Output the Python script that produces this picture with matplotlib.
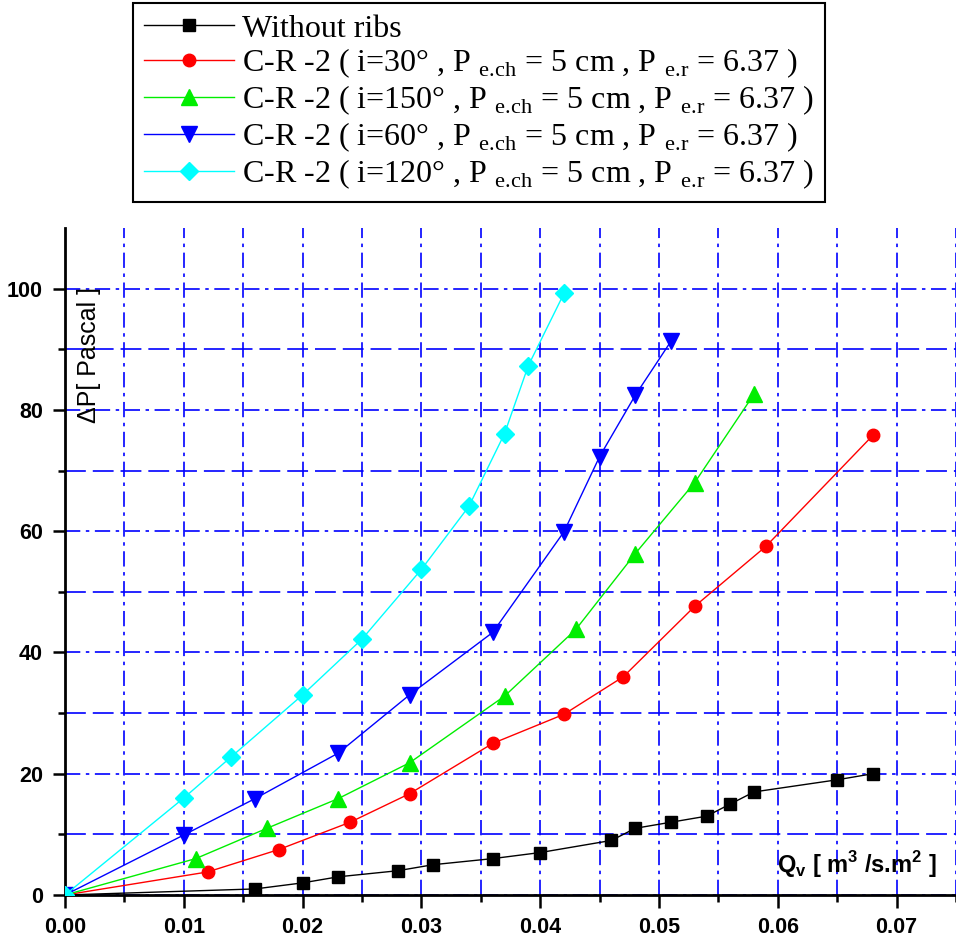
import matplotlib
matplotlib.use("Agg")
import matplotlib.pyplot as plt
from matplotlib.ticker import MultipleLocator, FixedLocator

# values (Qv in m3/s.m2, dP in Pascal)
q_noribs = [0.0, 0.016, 0.020, 0.023, 0.028, 0.031, 0.036, 0.040, 0.046, 0.048,
            0.051, 0.054, 0.056, 0.058, 0.065, 0.068]
dp_noribs = [0.0, 1.0, 2.0, 3.0, 4.0, 5.0, 6.0, 7.0, 9.0, 11.0,
             12.0, 13.0, 15.0, 17.0, 19.0, 20.0]

q_30 = [0.0, 0.012, 0.018, 0.024, 0.029, 0.036, 0.042, 0.047, 0.053, 0.059, 0.068]
dp_30 = [0.0, 3.8, 7.5, 12.0, 16.7, 25.0, 29.8, 36.0, 47.6, 57.5, 75.8]

q_150 = [0.0, 0.011, 0.017, 0.023, 0.029, 0.037, 0.043, 0.048, 0.053, 0.058]
dp_150 = [0.0, 6.0, 11.0, 15.9, 21.8, 32.8, 43.8, 56.3, 68.0, 82.6]

q_60 = [0.0, 0.010, 0.016, 0.023, 0.029, 0.036, 0.042, 0.045, 0.048, 0.051]
dp_60 = [0.0, 9.9, 15.9, 23.4, 33.0, 43.3, 59.9, 72.3, 82.4, 91.3]

q_120 = [0.0, 0.010, 0.014, 0.020, 0.025, 0.030, 0.034, 0.037, 0.039, 0.042]
dp_120 = [0.0, 16.0, 22.8, 33.0, 42.2, 53.7, 64.1, 76.1, 87.3, 99.2]

lbl = r"C-R -2 ( i=%s° , P $_{\mathrm{e.\!ch}}$ = 5 cm , P $_{\mathrm{e.\!r}}$ = 6.37 )"
labels = ["Without ribs", lbl % "30", lbl % "150", lbl % "60", lbl % "120"]

plt.rcParams['lines.scale_dashes'] = False
plt.rcParams['mathtext.fontset'] = 'custom'
plt.rcParams['mathtext.rm'] = 'Liberation Serif'
plt.rcParams['mathtext.bf'] = 'Liberation Sans:bold'

fig = plt.figure(figsize=(9.56, 9.44), dpi=100)
ax = fig.add_axes([65 / 956, 1 - 895 / 944, 891 / 956, 667 / 944])

series = [
    (q_noribs, dp_noribs, 'black', 's', 9),
    (q_30, dp_30, 'red', 'o', 9),
    (q_150, dp_150, '#00ee00', '^', 11),
    (q_60, dp_60, 'blue', 'v', 11),
    (q_120, dp_120, 'cyan', 'D', 9),
]
for (x, y, c, m, ms), lab in zip(series, labels):
    ax.plot(x, y, color=c, marker=m, markersize=ms, linewidth=1.0,
            markeredgecolor=c, label=lab, zorder=3)

ax.set_xlim(0, 0.075)
ax.set_ylim(0, 110)
ax.xaxis.set_major_locator(MultipleLocator(0.01))
ax.xaxis.set_minor_locator(MultipleLocator(0.005))
ax.yaxis.set_major_locator(FixedLocator([0, 20, 40, 60, 80, 100]))
ax.yaxis.set_minor_locator(FixedLocator([10, 30, 50, 70, 90]))
ax.xaxis.set_major_formatter(plt.FormatStrFormatter('%.2f'))

# blue grid, dash-dot on majors, dashed on minor y
dashdot = (0, (11, 4, 2.5, 4))
ax.grid(True, which='major', axis='both', color='blue', linewidth=1.2, linestyle=dashdot)
ax.grid(True, which='minor', axis='x', color='blue', linewidth=1.2, linestyle=dashdot)
ax.grid(True, which='minor', axis='y', color='blue', linewidth=1.2, linestyle=(0, (15, 5)))
ax.set_axisbelow(True)

for s in ['top', 'right']:
    ax.spines[s].set_visible(False)
for s in ['left', 'bottom']:
    ax.spines[s].set_linewidth(2)

ax.tick_params(which='major', direction='out', length=9, width=1.8, pad=7)
ax.tick_params(which='minor', direction='out', length=5, width=1.8)
for t in ax.get_xticklabels() + ax.get_yticklabels():
    t.set_fontfamily('Liberation Sans')
    t.set_fontweight('bold')
    t.set_fontsize(15.5)

ax.text(0.027, 0.809, "ΔP[ Pascal ]", transform=ax.transAxes, rotation=90,
        ha='center', va='center', fontsize=18, family='Liberation Sans')
ax.text(0.889, 0.033, r"Q$_\mathbf{v}$ [ m$^\mathbf{3}$ /s.m$^\mathbf{2}$ ]",
        transform=ax.transAxes, ha='center', va='baseline', fontsize=17,
        fontweight='bold', family='Liberation Sans')

leg = ax.legend(loc='upper left', bbox_to_anchor=(133 / 956, 1 - 3 / 944),
                bbox_transform=fig.transFigure, borderaxespad=0,
                prop={'family': 'Liberation Serif', 'size': 23},
                fancybox=False, framealpha=1, edgecolor='black',
                handlelength=2.8, handletextpad=0.25, labelspacing=0.1,
                borderpad=0.35)
leg.get_frame().set_linewidth(1.5)

plt.savefig('out.png', dpi=100)
